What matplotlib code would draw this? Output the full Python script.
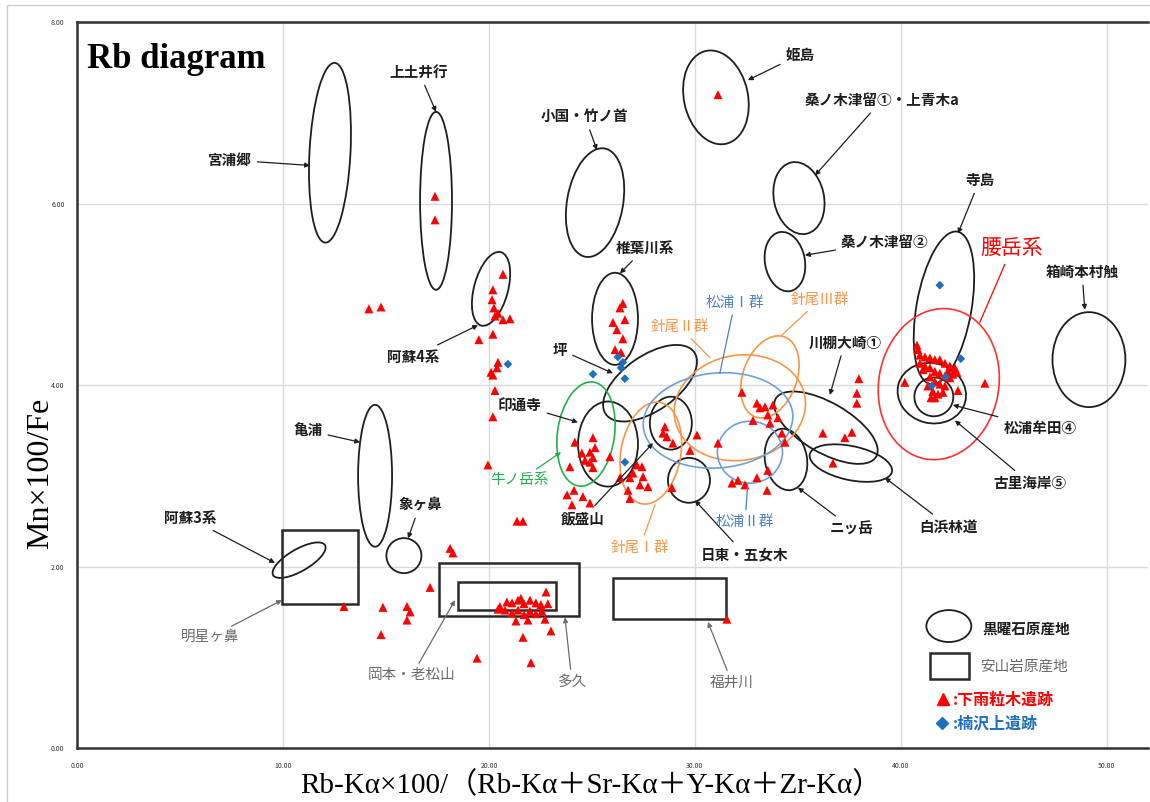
import numpy as np
import matplotlib
matplotlib.use("Agg")
import matplotlib.pyplot as plt
import matplotlib.transforms as mtransforms
from matplotlib.patches import Ellipse, Rectangle

plt.rcParams['font.family'] = ['Noto Sans CJK JP', 'DejaVu Sans']

# ---------------------------------------------------------
# Data
# ---------------------------------------------------------

# obsidian source fields (ellipses): centre in data units,
# axis lengths given in x-data units, angle in degrees on screen
src_names = ["宮浦郷", "上土井行", "小国・竹ノ首", "姫島", "桑ノ木津留①", "桑ノ木津留②",
             "寺島", "箱崎本村触", "古里海岸⑤", "松浦牟田④", "川棚大崎①", "白浜林道",
             "ニッ岳", "阿蘇4系", "椎葉川系", "坪", "印通寺", "飯盛山", "日東・五女木",
             "亀浦", "象ヶ鼻", "阿蘇3系",
             "牛ノ岳系", "針尾Ⅰ群", "針尾Ⅱ群", "針尾Ⅲ群", "松浦Ⅰ群", "松浦Ⅱ群", "腰岳系"]
src_x = [12.28, 17.43, 25.15, 31.02, 35.05, 34.37, 42.09, 49.13, 41.50, 41.60, 36.36, 37.57,
         34.42, 20.10, 26.12, 27.82, 25.78, 28.83, 29.71, 14.47, 15.87, 10.78,
         24.71, 27.86, 32.18, 33.64, 31.12, 32.67, 41.84]
src_y = [6.56, 6.03, 6.01, 7.17, 6.06, 5.36, 4.85, 4.28, 3.91, 3.87, 3.53, 3.14,
         3.18, 5.06, 4.73, 4.02, 3.35, 3.58, 2.95, 3.00, 2.12, 2.07,
         3.46, 3.25, 3.75, 4.09, 3.61, 3.26, 4.01]
src_w = [1.99, 1.55, 2.72, 3.11, 2.43, 1.94, 2.67, 3.54, 3.35, 1.89, 5.63, 4.08,
         2.04, 1.65, 2.23, 5.24, 2.91, 2.04, 2.04, 1.65, 1.70, 2.91,
         2.77, 2.91, 6.41, 2.62, 7.28, 3.16, 5.83]
src_h = [8.74, 8.64, 5.34, 4.61, 3.54, 2.91, 7.52, 4.61, 2.91, 1.89, 2.43, 1.65,
         3.01, 3.69, 4.47, 2.67, 4.13, 2.57, 2.18, 6.89, 1.70, 1.07,
         5.10, 5.00, 5.10, 4.13, 4.61, 3.01, 7.38]
src_ang = [-3, 0, -10, 12, 12, 10, -10, 0, -15, 0, -30, -12,
           10, -15, 0, 35, 0, 0, 0, 0, 0, 30,
           -8, -10, 10, -20, 5, 0, -10]
src_group = ["k"] * 22 + ["green", "orange", "orange", "orange", "blue", "blue", "red"]

# andesite source fields (boxes)
box_names = ["明星ヶ鼻", "多久", "岡本・老松山", "福井川"]
box_x0 = [9.95, 17.57, 18.50, 26.02]
box_x1 = [13.64, 24.37, 23.25, 31.50]
box_y0 = [1.59, 1.45, 1.52, 1.42]
box_y1 = [2.40, 2.04, 1.83, 1.87]

# 下雨粒木遺跡 (triangles)
tri_x = [17.38, 17.38, 14.17, 14.76, 31.12,
         20.68, 20.19, 20.15, 20.24, 20.44, 20.29, 20.68, 21.02, 20.19, 19.51,
         20.44, 20.39, 20.19, 20.10, 20.29, 20.19, 19.95, 21.36, 21.65,
         26.50, 26.36, 26.02, 26.60, 26.21, 26.50, 26.12, 26.41,
         24.17, 25.05, 24.51, 24.90, 25.15, 25.05, 24.66, 25.05, 25.87, 23.93, 24.90,
         27.18, 27.43, 26.99, 27.48, 26.84, 27.33, 27.72, 26.75, 26.36, 26.84,
         23.79, 24.13, 24.56, 24.90, 24.03, 28.88,
         28.54, 28.45, 28.64, 28.93, 30.10, 29.76, 31.12, 32.28,
         33.01, 33.16, 32.82, 33.40, 33.79, 33.64, 34.22, 34.37, 33.54, 34.03,
         31.80, 32.09, 32.43, 33.01, 33.50, 33.54,
         37.96, 37.86, 37.86, 36.21, 37.28, 37.62, 36.70,
         40.78, 40.83, 40.92, 41.17, 41.41, 41.65, 41.89, 42.14, 42.38, 42.62,
         40.92, 41.17, 41.41, 41.65, 41.89, 42.14, 41.41, 41.65, 41.89, 42.14,
         41.31, 41.55, 41.80, 41.46, 42.04, 41.07, 42.38, 40.19, 42.77, 42.72, 44.08, 41.65, 42.28, 42.52,
         12.96, 14.85, 14.76, 18.11, 18.25, 17.14, 16.02, 16.17, 16.02, 19.42, 22.04, 21.65,
         23.01, 22.77, 20.87, 20.44, 31.55,
         21.12, 21.41, 21.70, 21.99, 22.28, 22.52, 22.86, 20.78, 21.12, 21.41, 21.70, 21.99,
         22.28, 22.57, 21.31, 21.89, 22.72, 20.53, 21.55]
tri_y = [6.08, 5.82, 4.84, 4.86, 7.20,
         5.22, 5.05, 4.94, 4.85, 4.79, 4.76, 4.72, 4.73, 4.56, 4.50,
         4.25, 4.19, 4.11, 4.14, 3.94, 3.65, 3.12, 2.50, 2.50,
         4.90, 4.85, 4.69, 4.72, 4.61, 4.51, 4.39, 4.36,
         3.37, 3.42, 3.25, 3.26, 3.31, 3.20, 3.17, 3.09, 3.21, 3.10, 3.15,
         3.12, 3.10, 3.03, 2.99, 2.98, 2.90, 2.88, 2.84, 2.98, 2.75,
         2.79, 2.84, 2.77, 2.70, 2.68, 2.87,
         3.54, 3.47, 3.43, 3.36, 3.45, 3.28, 3.36, 3.92,
         3.80, 3.75, 3.61, 3.76, 3.78, 3.58, 3.47, 3.37, 3.67, 3.64,
         2.92, 2.95, 2.90, 2.98, 2.84, 3.06,
         4.07, 3.91, 3.80, 3.47, 3.42, 3.48, 3.14,
         4.44, 4.39, 4.33, 4.31, 4.30, 4.28, 4.28, 4.24, 4.21, 4.19,
         4.24, 4.21, 4.19, 4.15, 4.13, 4.10, 4.09, 4.04, 4.01, 3.99,
         3.99, 3.93, 3.90, 3.86, 3.92, 4.17, 4.08, 4.03, 3.94, 4.14, 4.02, 3.86, 4.15, 4.12,
         1.56, 1.55, 1.25, 2.20, 2.15, 1.77, 1.56, 1.50, 1.41, 0.99, 0.94, 1.22,
         1.29, 1.72, 1.61, 1.53, 1.42,
         1.60, 1.63, 1.59, 1.63, 1.60, 1.58, 1.59, 1.52, 1.49, 1.52, 1.47, 1.51,
         1.48, 1.51, 1.40, 1.41, 1.42, 1.56, 1.65]

# 楠沢上遺跡 (diamonds)
dia_x = [20.92, 25.05, 26.26, 26.50, 26.41, 26.60, 26.60, 41.89, 42.91, 42.18, 41.50]
dia_y = [4.23, 4.12, 4.31, 4.25, 4.19, 4.07, 3.15, 5.10, 4.29, 4.09, 3.99]

x_ticks = [0, 10, 20, 30, 40, 50]
y_ticks = [0, 2, 4, 6, 8]

# ---------------------------------------------------------
# Colours
# ---------------------------------------------------------
BLK = '#1e1e1e'
GRY = '#6a6a6a'
ORG = '#F79646'
BLU = '#4F81BD'
GRN = '#22B04B'
RED = '#FF0000'
group_col = {"k": BLK, "green": GRN, "orange": ORG, "blue": '#6F9FD8', "red": '#FF3030'}

# ---------------------------------------------------------
# Figure
# ---------------------------------------------------------
fig = plt.figure(figsize=(11.5, 8.02), dpi=100)
ax = fig.add_axes([0.067, 0.0673, 0.9313, 0.9052])
ax.set_xlim(0, 52)
ax.set_ylim(0, 8)
ax.set_xticks(x_ticks)
ax.set_yticks(y_ticks)
ax.xaxis.set_major_formatter(plt.FormatStrFormatter('%.2f'))
ax.yaxis.set_major_formatter(plt.FormatStrFormatter('%.2f'))
ax.tick_params(length=0, labelsize=5, labelcolor='#333333')
ax.tick_params(axis='x', pad=10)
ax.tick_params(axis='y', pad=9)
ax.grid(True, color='#dadada', lw=1)
ax.set_axisbelow(True)
for s in ['left', 'bottom', 'top']:
    ax.spines[s].set_linewidth(1.8)
    ax.spines[s].set_color('#333333')
ax.spines['right'].set_visible(False)

# ellipses: sizes in x-units, y scaled by the axes aspect
p0 = ax.transData.transform((0, 0))
p1 = ax.transData.transform((1, 1))
ky = (p1[0] - p0[0]) / (p1[1] - p0[1])
for cx, cy, w, h, ang, g in zip(src_x, src_y, src_w, src_h, src_ang, src_group):
    tr = mtransforms.Affine2D().scale(1, ky).translate(cx, cy) + ax.transData
    lw = 1.2 if g != "k" else 1.3
    ax.add_patch(Ellipse((0, 0), w, h, angle=ang, transform=tr, fill=False,
                         ec=group_col[g], lw=lw, zorder=3))

for x0, x1, y0, y1 in zip(box_x0, box_x1, box_y0, box_y1):
    ax.add_patch(Rectangle((x0, y0), x1 - x0, y1 - y0, fill=False, ec='#2a2a2a',
                           lw=1.8, zorder=3))

ax.scatter(tri_x, tri_y, marker='^', s=42, color=RED, edgecolors='none', zorder=4)
ax.scatter(dia_x, dia_y, marker='D', s=20, color='#1F6FBF', edgecolors='none', zorder=5)

# labels with leader arrows: text, text pos, arrow target, colour, arrow style
labels = [
    ("宮浦郷", 7.43, 6.48, 11.31, 6.42, BLK, '-|>'),
    ("上土井行", 16.60, 7.45, 17.43, 7.01, BLK, '-|>'),
    ("小国・竹ノ首", 24.66, 6.96, 25.24, 6.59, BLK, '-|>'),
    ("姫島", 35.10, 7.64, 32.57, 7.36, BLK, '-|>'),
    ("桑ノ木津留①・上青木a", 39.08, 7.14, 35.83, 6.31, BLK, '-|>'),
    ("桑ノ木津留②", 39.22, 5.58, 35.34, 5.43, BLK, '-|>'),
    ("寺島", 43.83, 6.26, 42.77, 5.67, BLK, '-|>'),
    ("箱崎本村触", 48.79, 5.25, 48.93, 4.83, BLK, '-|>'),
    ("松浦牟田④", 46.75, 3.53, 42.52, 3.78, BLK, '-|>'),
    ("古里海岸⑤", 46.26, 2.92, 42.62, 3.61, BLK, '-|>'),
    ("川棚大崎①", 37.28, 4.47, 36.55, 3.89, BLK, '-|>'),
    ("白浜林道", 42.33, 2.44, 39.22, 2.98, BLK, '-|>'),
    ("ニッ岳", 37.62, 2.42, 35.00, 2.87, BLK, '-|>'),
    ("阿蘇4系", 16.31, 4.31, 19.47, 4.66, BLK, '-|>'),
    ("椎葉川系", 27.57, 5.51, 26.36, 5.23, BLK, '-|>'),
    ("坪", 23.45, 4.39, 26.02, 4.13, BLK, '-|>'),
    ("印通寺", 21.50, 3.78, 24.32, 3.59, BLK, '-|>'),
    ("飯盛山", 24.56, 2.53, 27.96, 3.36, BLK, '-|>'),
    ("日東・五女木", 32.43, 2.13, 30.00, 2.73, BLK, '-|>'),
    ("亀浦", 11.21, 3.50, 13.74, 3.37, BLK, '-|>'),
    ("象ヶ鼻", 16.65, 2.68, 16.07, 2.31, BLK, '-|>'),
    ("阿蘇3系", 5.49, 2.53, 9.61, 2.04, BLK, '-|>'),
    ("明星ヶ鼻", 6.46, 1.22, 9.95, 1.63, GRY, '-|>'),
    ("岡本・老松山", 16.26, 0.80, 18.35, 1.63, GRY, '-|>'),
    ("多久", 24.03, 0.73, 23.69, 1.44, GRY, '-|>'),
    ("福井川", 31.80, 0.72, 30.63, 1.39, GRY, '-|>'),
    ("牛ノ岳系", 21.50, 2.95, 23.50, 3.26, GRN, '-|>'),
    ("針尾Ⅰ群", 27.33, 2.21, 28.06, 2.68, ORG, '-'),
    ("針尾Ⅱ群", 29.27, 4.64, 30.73, 4.30, ORG, '-'),
    ("針尾Ⅲ群", 36.07, 4.94, 34.22, 4.55, ORG, '-'),
    ("松浦Ⅰ群", 31.94, 4.91, 31.21, 4.13, BLU, '-'),
    ("松浦Ⅱ群", 32.43, 2.49, 32.57, 2.92, BLU, '-'),
]
for txt, tx, ty, hx, hy, col, style in labels:
    weight = 'bold' if col == BLK else 'normal'
    ax.annotate(txt, xy=(hx, hy), xytext=(tx, ty), ha='center', va='center',
                fontsize=10.5, color=col, fontweight=weight, zorder=6,
                arrowprops=dict(arrowstyle=style, color=col, lw=0.9,
                                mutation_scale=7, shrinkA=2, shrinkB=0))

ax.annotate("腰岳系", xy=(43.83, 4.69), xytext=(45.39, 5.51), ha='center', va='center',
            fontsize=15, color=RED, zorder=6,
            arrowprops=dict(arrowstyle='-', color=RED, lw=0.9, shrinkA=2, shrinkB=0))

# title inside the plot
ax.text(0.009, 0.937, "Rb diagram", transform=ax.transAxes, fontsize=25,
        fontweight='bold', family=['Liberation Serif', 'DejaVu Serif'], va='baseline')

# legend (drawn by hand)
ax.add_patch(Ellipse((0.814, 0.168), 0.042, 0.044, transform=ax.transAxes,
                     fill=False, ec=BLK, lw=1.3))
ax.text(0.845, 0.164, "黒曜石原産地", transform=ax.transAxes, fontsize=10.5,
        fontweight='bold', va='center', color=BLK)
ax.add_patch(Rectangle((0.796, 0.095), 0.037, 0.036, transform=ax.transAxes,
                       fill=False, ec='#2a2a2a', lw=1.8))
ax.text(0.843, 0.112, "安山岩原産地", transform=ax.transAxes, fontsize=10.5,
        va='center', color=GRY)
ax.plot([0.809], [0.067], marker='^', ms=8, color=RED, transform=ax.transAxes)
ax.text(0.818, 0.067, ":下雨粒木遺跡", transform=ax.transAxes, fontsize=11.5,
        fontweight='bold', va='center', color=RED)
ax.plot([0.808], [0.034], marker='D', ms=6, color='#1F6FBF', transform=ax.transAxes)
ax.text(0.818, 0.034, ":楠沢上遺跡", transform=ax.transAxes, fontsize=11.5,
        fontweight='bold', va='center', color='#1F6FBF')

# axis titles
serif = ['Liberation Serif', 'Noto Sans CJK JP']
fig.text(0.514, 0.021, "Rb-Kα×100/（Rb-Kα＋Sr-Kα＋Y-Kα＋Zr-Kα）", family=serif,
         fontsize=21, ha='center', va='center')
fig.text(0.035, 0.41, "Mn×100/Fe", family=serif, fontsize=23, rotation=90,
         ha='center', va='center')

# light frame round the whole picture
fig.add_artist(Rectangle((0.006, -0.01), 1.0, 1.004, transform=fig.transFigure,
                         fill=False, ec='#cccccc', lw=1))

plt.savefig("out.png", dpi=100)
